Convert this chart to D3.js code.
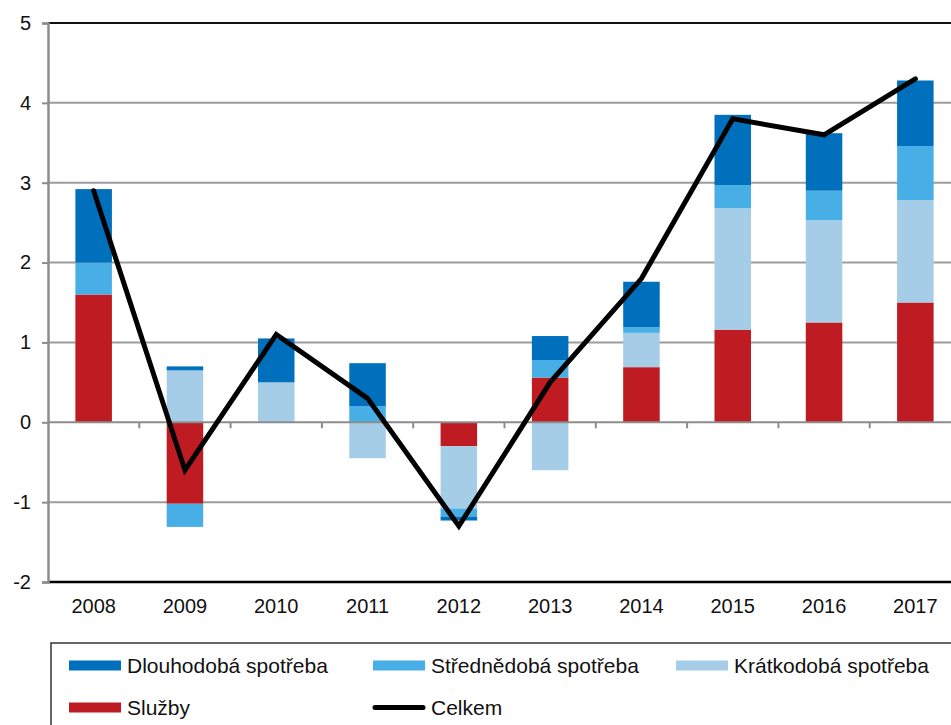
<!DOCTYPE html>
<html>
<head>
<meta charset="utf-8">
<script src="https://cdn.jsdelivr.net/npm/d3@7"></script>
<style>
  html, body { margin: 0; padding: 0; background: #fff; overflow: hidden; }
  svg { display: block; font-family: "Liberation Sans", Arial, sans-serif; }
</style>
</head>
<body>
<svg id="chart" width="951" height="725"></svg>
<script>
// data
const years = ["2008", "2009", "2010", "2011", "2012", "2013", "2014", "2015", "2016", "2017"];
const sluzby = [1.6, -1.02, 0, 0, -0.3, 0.56, 0.69, 1.16, 1.25, 1.5];
const kratkodoba = [0, 0.65, 0.5, -0.45, -0.78, -0.6, 0.43, 1.52, 1.28, 1.28];
const strednedoba = [0.4, -0.29, 0, 0.2, -0.1, 0.22, 0.07, 0.29, 0.37, 0.68];
const dlouhodoba = [0.92, 0.05, 0.55, 0.54, -0.05, 0.3, 0.57, 0.88, 0.72, 0.82];
const celkem = [2.9, -0.6, 1.1, 0.3, -1.3, 0.5, 1.8, 3.8, 3.6, 4.3];
const yTicks = [-2, -1, 0, 1, 2, 3, 4, 5];

// stacking order: first series sits next to zero
const series = [
  { name: "Služby", values: sluzby, color: "#be1b22" },
  { name: "Krátkodobá spotřeba", values: kratkodoba, color: "#a6cde8" },
  { name: "Střednědobá spotřeba", values: strednedoba, color: "#47aee6" },
  { name: "Dlouhodobá spotřeba", values: dlouhodoba, color: "#0070bd" }
];

const svg = d3.select("#chart");
const plotLeft = 48, plotRight = 961, plotTop = 23, plotBottom = 582;

const x = d3.scaleBand().domain(years).range([plotLeft, plotRight]).paddingInner(0.6).paddingOuter(0.3);
const y = d3.scaleLinear().domain([-2, 5]).range([plotBottom, plotTop]);

// horizontal gridlines
svg.append("g")
  .selectAll("line")
  .data(yTicks.filter(d => d !== -2 && d !== 5 && d !== 0))
  .join("line")
  .attr("x1", plotLeft).attr("x2", plotRight)
  .attr("y1", d => y(d)).attr("y2", d => y(d))
  .attr("stroke", "#9c9c9c").attr("stroke-width", 2);

// bars (stacked, positive and negative separately)
const rows = years.map((yr, i) => {
  const r = { year: yr };
  series.forEach(s => { r[s.name] = s.values[i]; });
  return r;
});
const stack = d3.stack()
  .keys(series.map(s => s.name))
  .offset(d3.stackOffsetDiverging);
const stacked = stack(rows);

svg.append("g")
  .selectAll("g")
  .data(stacked)
  .join("g")
  .attr("fill", (d, i) => series[i].color)
  .selectAll("rect")
  .data(d => d)
  .join("rect")
  .attr("x", d => x(d.data.year))
  .attr("width", x.bandwidth())
  .attr("y", d => y(Math.max(d[0], d[1])))
  .attr("height", d => Math.abs(y(d[0]) - y(d[1])));

// zero line with category ticks
svg.append("line")
  .attr("x1", plotLeft).attr("x2", plotRight)
  .attr("y1", y(0)).attr("y2", y(0))
  .attr("stroke", "#8c8c8c").attr("stroke-width", 2);
const step = x.step();
svg.append("g")
  .selectAll("line")
  .data(years.slice(1))
  .join("line")
  .attr("x1", d => x(d) - step * 0.3)
  .attr("x2", d => x(d) - step * 0.3)
  .attr("y1", y(0)).attr("y2", y(0) + 6)
  .attr("stroke", "#8c8c8c").attr("stroke-width", 2);

// top and bottom borders
svg.append("line")
  .attr("x1", plotLeft).attr("x2", plotRight).attr("y1", y(5)).attr("y2", y(5))
  .attr("stroke", "#111").attr("stroke-width", 2);
svg.append("line")
  .attr("x1", plotLeft).attr("x2", plotRight).attr("y1", y(-2)).attr("y2", y(-2))
  .attr("stroke", "#000").attr("stroke-width", 2.5);

// y axis
const yAxis = svg.append("g")
  .attr("transform", `translate(${plotLeft},0)`)
  .call(d3.axisLeft(y).tickValues(yTicks).tickSize(6).tickPadding(11).tickFormat(d3.format("d")));
yAxis.select(".domain").attr("stroke", "#8c8c8c").attr("stroke-width", 2.5);
yAxis.selectAll(".tick line").attr("stroke", "#8c8c8c").attr("stroke-width", 2);
yAxis.selectAll(".tick text")
  .attr("font-size", 20).attr("fill", "#111").attr("font-family", "Liberation Sans, Arial, sans-serif")
  .text(d => d < 0 ? "-" + Math.abs(d) : d);

// x labels
svg.append("g")
  .selectAll("text")
  .data(years)
  .join("text")
  .attr("x", d => x(d) + x.bandwidth() / 2)
  .attr("y", 613)
  .attr("text-anchor", "middle")
  .attr("font-size", 20)
  .attr("fill", "#111")
  .text(d => d);

// total line
const line = d3.line()
  .x((d, i) => x(years[i]) + x.bandwidth() / 2)
  .y(d => y(d));
svg.append("path")
  .datum(celkem)
  .attr("d", line)
  .attr("fill", "none")
  .attr("stroke", "#000")
  .attr("stroke-width", 5)
  .attr("stroke-linejoin", "miter")
  .attr("stroke-linecap", "round");

// legend
svg.append("rect")
  .attr("x", 51).attr("y", 643).attr("width", 920).attr("height", 100)
  .attr("fill", "none").attr("stroke", "#333").attr("stroke-width", 1.5);

const legendItems = [
  { name: "Dlouhodobá spotřeba", color: "#0070bd", type: "rect", lx: 69, ly: 665.5 },
  { name: "Střednědobá spotřeba", color: "#47aee6", type: "rect", lx: 373, ly: 665.5 },
  { name: "Krátkodobá spotřeba", color: "#a6cde8", type: "rect", lx: 676, ly: 665.5 },
  { name: "Služby", color: "#be1b22", type: "rect", lx: 69, ly: 707.5 },
  { name: "Celkem", color: "#000", type: "line", lx: 373, ly: 707.5 }
];
const lg = svg.append("g").selectAll("g").data(legendItems).join("g")
  .attr("transform", d => `translate(${d.lx},${d.ly})`);
lg.filter(d => d.type === "rect").append("rect")
  .attr("x", 0).attr("y", -5).attr("width", 52).attr("height", 10)
  .attr("fill", d => d.color);
lg.filter(d => d.type === "line").append("line")
  .attr("x1", 2).attr("x2", 50).attr("y1", 0).attr("y2", 0)
  .attr("stroke", "#000").attr("stroke-width", 5).attr("stroke-linecap", "round");
lg.append("text")
  .attr("x", 58).attr("y", 7)
  .attr("font-size", 21)
  .attr("fill", "#111")
  .text(d => d.name);
</script>
</body>
</html>
